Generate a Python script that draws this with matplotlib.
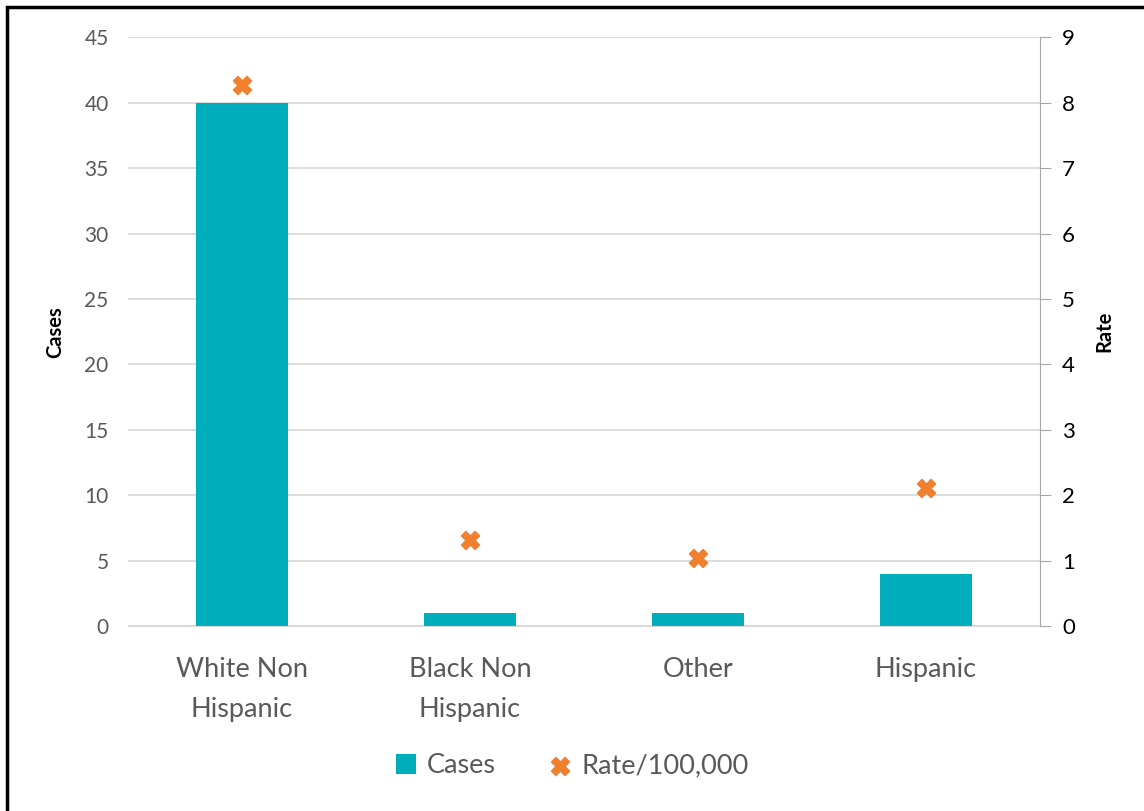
import numpy as np
import matplotlib.pyplot as plt
from matplotlib.patches import Rectangle

categories = ['White Non\nHispanic', 'Black Non\nHispanic', 'Other', 'Hispanic']
cases = [40, 1, 1, 4]
rates = [8.27, 1.31, 1.04, 2.11]

teal = '#00AEBB'
orange = '#F07F2E'
plt.rcParams['font.family'] = ['Lato', 'DejaVu Sans']

fig = plt.figure(figsize=(11.44, 8.11), dpi=100)
ax = fig.add_axes([0.1119, 0.228, 0.7972, 0.726])
ax2 = ax.twinx()

x = np.arange(len(categories))
ax.bar(x, cases, width=0.4, color=teal, label='Cases', zorder=2)
ax2.scatter(x, rates, marker='X', s=170, color=orange, label='Rate/100,000', zorder=3)

ax.set_xlim(-0.5, 3.5)
ax.set_ylim(0, 45)
ax.set_yticks(range(0, 46, 5))
ax2.set_ylim(0, 9)
ax2.set_yticks(range(0, 10))

ax.grid(axis='y', color='#d9d9d9', linewidth=1.3, zorder=0)
ax.set_axisbelow(True)
for s in ['top', 'right', 'left']:
    ax.spines[s].set_visible(False)
    ax2.spines[s].set_visible(False)
ax.spines['bottom'].set_color('#d9d9d9')
ax2.spines['bottom'].set_visible(False)
ax2.spines['right'].set_visible(True)
ax2.spines['right'].set_color('#a6a6a6')

ax.set_xticks(x)
ax.set_xticklabels(categories, fontsize=19.5, color='#595959', linespacing=1.75)
ax.tick_params(axis='x', length=0, pad=22)
ax.tick_params(axis='y', length=0, labelsize=15, labelcolor='#595959', pad=14)
ax2.tick_params(axis='y', length=8, color='#a6a6a6', labelsize=16, labelcolor='black', pad=8)

ax.set_ylabel('Cases', fontsize=14.5, fontweight='bold', labelpad=14)
ax2.set_ylabel('Rate', fontsize=14.5, fontweight='bold', labelpad=14)

h1, l1 = ax.get_legend_handles_labels()
h2, l2 = ax2.get_legend_handles_labels()
fig.legend(h1 + h2, l1 + l2, loc='center', bbox_to_anchor=(0.5, 0.056), ncol=2,
           frameon=False, fontsize=19.5, labelcolor='#595959', handlelength=0.75,
           handleheight=0.75, handletextpad=0.4, columnspacing=2.0)

fig.add_artist(Rectangle((0.006, -0.01), 1.2, 1.0014, transform=fig.transFigure,
                         fill=False, edgecolor='black', linewidth=2.5))

fig.savefig('out.png', dpi=100)
